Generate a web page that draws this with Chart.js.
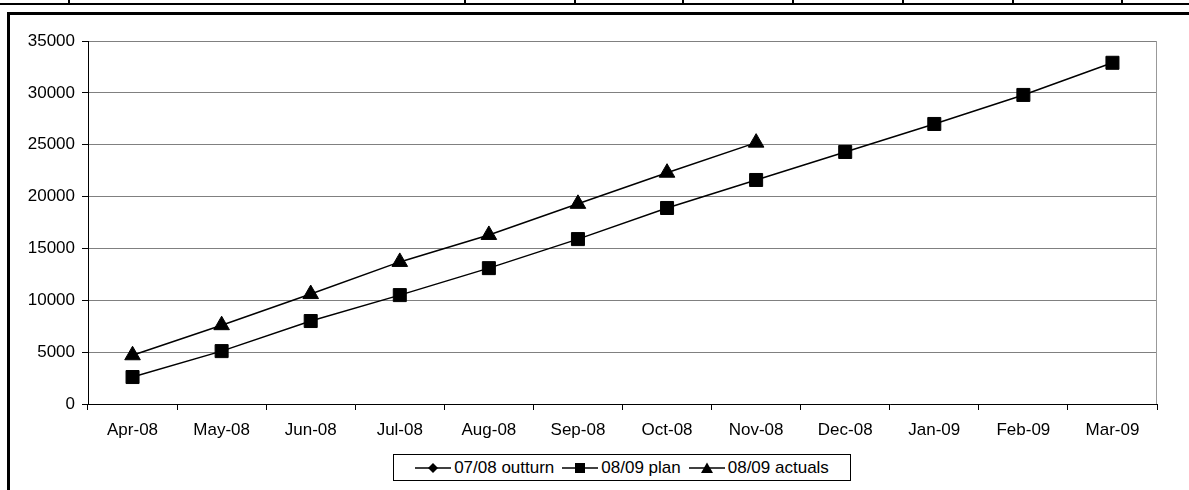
<!DOCTYPE html>
<html>
<head>
<meta charset="utf-8">
<script src="https://cdn.jsdelivr.net/npm/chart.js"></script>
<style>
  body { margin: 0; background: #fff; font-family: 'Liberation Sans', Arial, sans-serif; }
  #wrap { position: relative; width: 1189px; height: 490px; overflow: hidden; }
  #chart { position: absolute; left: 0; top: 0; }
  .rule { position: absolute; background: #000; }
  #legend { position: absolute; left: 393px; top: 454px; width: 458px; height: 27px; border: 1px solid #000;
            box-sizing: border-box; display: flex; align-items: center; justify-content: center;
            font-size: 17px; color: #000; white-space: nowrap; }
  #legend .item { display: flex; align-items: center; margin: 0 4px; }
  #legend canvas { margin-right: 3px; }
</style>
</head>
<body>
<div id="wrap">
  <canvas id="chart" width="1189" height="452"></canvas>
  <div id="legend"></div>
</div>
<script>
// table row fragment above the chart
const tableCols = [68, 464, 574, 682, 792, 902, 1012, 1121];

const months = ['Apr-08', 'May-08', 'Jun-08', 'Jul-08', 'Aug-08', 'Sep-08',
                'Oct-08', 'Nov-08', 'Dec-08', 'Jan-09', 'Feb-09', 'Mar-09'];
const outturn0708 = [];
const plan0809 = [2600, 5100, 8000, 10500, 13100, 15900, 18900, 21600, 24300, 27000, 29800, 32900];
const actuals0809 = [4700, 7600, 10600, 13700, 16300, 19300, 22300, 25200];
const yTicks = [0, 5000, 10000, 15000, 20000, 25000, 30000, 35000];

const wrap = document.getElementById('wrap');
function rule(l, t, w, h) {
  const d = document.createElement('div');
  d.className = 'rule';
  d.style.left = l + 'px'; d.style.top = t + 'px';
  d.style.width = w + 'px'; d.style.height = h + 'px';
  wrap.appendChild(d);
}
rule(0, 3, 1189, 2);
tableCols.forEach(x => rule(x, 0, 2, 4));
rule(7, 12, 1182, 3);
rule(7, 12, 3, 478);

const font = { family: "'Liberation Sans', Arial, sans-serif", size: 17 };

const rightEdge = {
  id: 'rightEdge',
  afterDraw(chart) {
    const a = chart.chartArea, ctx = chart.ctx;
    ctx.save();
    ctx.strokeStyle = '#999';
    ctx.lineWidth = 1;
    ctx.beginPath();
    ctx.moveTo(a.right - 0.5, a.top);
    ctx.lineTo(a.right - 0.5, a.bottom);
    ctx.stroke();
    ctx.restore();
  }
};

const datasets = [
  { label: '07/08 outturn', data: outturn0708, pointStyle: 'rectRot', pointRadius: 7 },
  { label: '08/09 plan', data: plan0809, pointStyle: 'rect', pointRadius: 9.2 },
  { label: '08/09 actuals', data: actuals0809, pointStyle: 'triangle', pointRadius: 9 }
].map(d => Object.assign({
  borderColor: '#000', backgroundColor: '#000', borderWidth: 1.5,
  pointBackgroundColor: '#000', pointBorderColor: '#000', pointBorderWidth: 1,
  tension: 0
}, d));

new Chart(document.getElementById('chart'), {
  type: 'line',
  data: { labels: months, datasets: datasets },
  options: {
    responsive: false,
    animation: false,
    layout: { padding: { left: 0, top: 41, right: 32, bottom: 0 } },
    plugins: { legend: { display: false }, tooltip: { enabled: false } },
    scales: {
      x: {
        offset: true,
        afterFit: s => { s.height = 48; },
        grid: { offset: true, drawOnChartArea: false, color: '#000', tickLength: 6 },
        border: { color: '#000', width: 1 },
        ticks: { color: '#000', font: font, padding: 10, maxRotation: 0, autoSkip: false }
      },
      y: {
        min: 0, max: 35000,
        afterFit: s => { s.width = 88; },
        afterBuildTicks: s => { s.ticks = yTicks.map(v => ({ value: v })); },
        grid: { color: '#808080', tickColor: '#000', tickLength: 6 },
        border: { color: '#000', width: 1 },
        ticks: { color: '#000', font: font, padding: 7, callback: v => String(v) }
      }
    }
  },
  plugins: [rightEdge]
});

// legend: line + marker icon, then label
function icon(style) {
  const c = document.createElement('canvas');
  c.width = 36; c.height = 16;
  const g = c.getContext('2d');
  g.strokeStyle = '#000'; g.fillStyle = '#000'; g.lineWidth = 1.5;
  g.beginPath(); g.moveTo(0, 8); g.lineTo(36, 8); g.stroke();
  g.beginPath();
  if (style === 'rectRot') {
    g.moveTo(18, 3); g.lineTo(23, 8); g.lineTo(18, 13); g.lineTo(13, 8);
  } else if (style === 'rect') {
    g.rect(13, 3, 10, 10);
  } else {
    g.moveTo(18, 2.5); g.lineTo(24, 13); g.lineTo(12, 13);
  }
  g.closePath(); g.fill();
  return c;
}
const legend = document.getElementById('legend');
datasets.forEach(d => {
  const it = document.createElement('div');
  it.className = 'item';
  it.appendChild(icon(d.pointStyle));
  const t = document.createElement('span');
  t.textContent = d.label;
  it.appendChild(t);
  legend.appendChild(it);
});
</script>
</body>
</html>
